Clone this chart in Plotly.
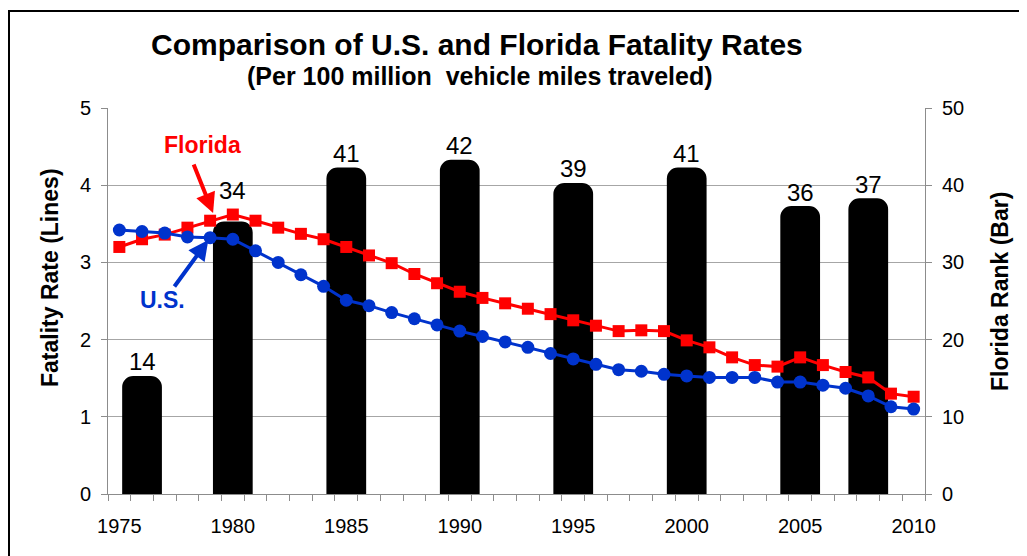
import plotly.graph_objects as go

years = list(range(1975, 2011))
florida_rate = [3.20, 3.30, 3.36, 3.45, 3.54, 3.62, 3.54, 3.45, 3.37, 3.30,
                3.20, 3.09, 2.99, 2.85, 2.73, 2.62, 2.54, 2.47, 2.40, 2.33,
                2.25, 2.18, 2.11, 2.12, 2.11, 1.99, 1.90, 1.77, 1.67, 1.65,
                1.77, 1.67, 1.58, 1.51, 1.30, 1.26]
us_rate = [3.42, 3.40, 3.38, 3.33, 3.32, 3.30, 3.15, 3.00, 2.84, 2.69,
           2.51, 2.44, 2.35, 2.27, 2.19, 2.11, 2.04, 1.97, 1.90, 1.82,
           1.75, 1.68, 1.61, 1.59, 1.55, 1.53, 1.51, 1.51, 1.51, 1.45,
           1.45, 1.41, 1.37, 1.27, 1.13, 1.10]
rank_years = [1976, 1980, 1985, 1990, 1995, 2000, 2005, 2008]
florida_rank = [14, 34, 41, 42, 39, 41, 36, 37]
x_tick_years = [1975, 1980, 1985, 1990, 1995, 2000, 2005, 2010]

FONT = "Liberation Sans, Arial, sans-serif"
GRID = "#a6a6a6"
AXIS = "#8c8c8c"

# page body has an 8px margin; figure sized so plot area sits at window 108..925 x 108..494
OFF = 8
PL, PR, PT, PB = 108, 925, 108, 494
PW, PH = PR - PL, PB - PT


def px(xw):
    return (xw - PL) / PW


def py(yw):
    return (PB - yw) / PH


BEVEL = 20  # thick outline emulating the raised bevelled bar look

fig = go.Figure()
fig.add_trace(go.Bar(
    x=rank_years, y=florida_rank, width=0.87,
    marker=dict(color="black", line=dict(width=BEVEL, color="black")),
    cliponaxis=True, yaxis="y", name="Florida Rank",
))
fig.add_trace(go.Scatter(
    x=years, y=florida_rate, yaxis="y2", mode="lines+markers",
    line=dict(color="#ff0000", width=3),
    marker=dict(symbol="square", size=12, color="#ff0000"),
    name="Florida", cliponaxis=False,
))
fig.add_trace(go.Scatter(
    x=years, y=us_rate, yaxis="y2", mode="lines+markers",
    line=dict(color="#0033cc", width=3),
    marker=dict(symbol="circle", size=13, color="#0033cc"),
    name="U.S.", cliponaxis=False,
))

W, H = 1027 - OFF, 556 - OFF
fig.update_layout(
    width=W, height=H,
    margin=dict(l=PL - OFF, r=W - (PR - OFF), t=PT - OFF, b=H - (PB - OFF), autoexpand=False),
    paper_bgcolor="white", plot_bgcolor="white",
    showlegend=False, barcornerradius=1,
    font=dict(family=FONT, color="black", size=20),
    xaxis=dict(
        range=[1974.5, 2010.5], tickvals=x_tick_years,
        ticks="", showline=True, linecolor=AXIS, linewidth=1,
        showgrid=False, zeroline=False,
        tickfont=dict(size=20), ticklabelstandoff=14,
        minor=dict(ticks="outside", ticklen=6, tickcolor=AXIS,
                   tick0=1974.5, dtick=1, showgrid=False),
    ),
    yaxis=dict(
        side="right", range=[0, 50], dtick=10,
        ticks="outside", ticklen=6, tickcolor=AXIS,
        showline=True, linecolor=AXIS, linewidth=1,
        showgrid=True, gridcolor=GRID, gridwidth=1, zeroline=False,
        tickfont=dict(size=20), ticklabelstandoff=6,
    ),
    yaxis2=dict(
        overlaying="y", side="left", range=[0, 5], dtick=1,
        ticks="outside", ticklen=6, tickcolor=AXIS,
        showline=True, linecolor=AXIS, linewidth=1,
        showgrid=False, zeroline=False,
        tickfont=dict(size=20), ticklabelstandoff=6,
    ),
)

annotations = [
    dict(text="<b>Comparison of U.S. and Florida Fatality Rates</b>",
         xref="paper", yref="paper", x=px(477), y=py(44),
         showarrow=False, font=dict(size=30), xanchor="center", yanchor="middle"),
    dict(text="<b>(Per 100 million  vehicle miles traveled)</b>",
         xref="paper", yref="paper", x=px(480), y=py(76),
         showarrow=False, font=dict(size=25), xanchor="center", yanchor="middle"),
    dict(text="<b>Fatality Rate (Lines)</b>", xref="paper", yref="paper",
         x=px(50), y=py(278), textangle=-90, showarrow=False,
         font=dict(size=23), xanchor="center", yanchor="middle"),
    dict(text="<b>Florida Rank (Bar)</b>", xref="paper", yref="paper",
         x=px(1000), y=py(292), textangle=-90, showarrow=False,
         font=dict(size=23), xanchor="center", yanchor="middle"),
    dict(text="<b>Florida</b>", xref="x", yref="y2", x=1978.68, y=4.52,
         showarrow=False, font=dict(size=23, color="#ff0000")),
    dict(text="", xref="x", yref="y2", x=1979.13, y=3.64, ax=-20, ay=-50,
         showarrow=True, arrowhead=2, arrowsize=1, arrowwidth=4, arrowcolor="#ff0000"),
    dict(text="<b>U.S.</b>", xref="x", yref="y2", x=1976.92, y=2.51,
         showarrow=False, font=dict(size=23, color="#0033cc")),
    dict(text="", xref="x", yref="y2", x=1978.92, y=3.29, ax=-35, ay=48,
         showarrow=True, arrowhead=2, arrowsize=1, arrowwidth=4, arrowcolor="#0033cc"),
]
# bar value labels (the 1980 label is lifted clear of the Florida line, as in the original)
for yr, rk in zip(rank_years, florida_rank):
    annotations.append(dict(
        text=str(rk), xref="x", yref="y", x=yr, y=rk,
        yshift=41 if yr == 1980 else 24, showarrow=False,
        xanchor="center", yanchor="middle",
        font=dict(size=24, color="black"),
    ))
fig.update_layout(annotations=annotations)

fig.add_shape(type="rect", xref="paper", yref="paper",
              x0=px(OFF + 1), x1=px(1022),
              y0=py(570), y1=py(11),
              line=dict(color="black", width=2), fillcolor="rgba(0,0,0,0)", layer="below")

fig.write_html("out.html")
